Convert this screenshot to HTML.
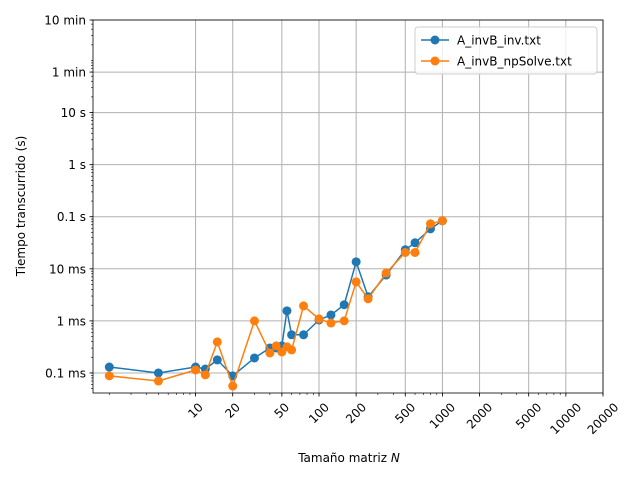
<!DOCTYPE html>
<html><head><meta charset="utf-8"><style>
body{margin:0;background:#fff;}
svg text{font-family:"DejaVu Sans","Liberation Sans",sans-serif;font-size:12px;fill:#000;}
</style></head><body>
<svg id="chart" width="640" height="480" xmlns="http://www.w3.org/2000/svg"></svg>
<script>
const sizes=[2,5,10,12,15,20,30,40,45,50,55,60,75,100,125,160,200,250,350,500,600,800,1000];
const invMs=[0.130,0.1,0.130,0.119,0.178,0.088,0.194,0.302,0.302,0.331,1.56,0.54,0.54,1.04,1.30,2.04,13.6,2.9,7.6,23.2,31.6,58.5,83.6];
const solveMs=[0.088,0.070,0.114,0.092,0.395,0.056,1.0,0.242,0.331,0.253,0.316,0.277,1.94,1.09,0.91,1.0,5.6,2.65,8.3,20.6,20.6,73.2,83.6];
const xTicks=[10,20,50,100,200,500,1000,2000,5000,10000,20000];
const xTickLabels=["10","20","50","100","200","500","1000","2000","5000","10000","20000"];
const yTicks=[1e-4,1e-3,1e-2,0.1,1,10,60,600];
const yTickLabels=["0.1 ms","1 ms","10 ms","0.1 s","1 s","10 s","1 min","10 min"];
const seriesNames=["A_invB_inv.txt","A_invB_npSolve.txt"];

const L=93,R=603,T=20,B=393;
const xMin=0.169,xMax=Math.log10(20000);
const yMin=Math.log10(4.12e-5),yMax=Math.log10(600);
const X=v=>L+(Math.log10(v)-xMin)/(xMax-xMin)*(R-L);
const Y=v=>B-(Math.log10(v)-yMin)/(yMax-yMin)*(B-T);
const svg=document.getElementById('chart');
const NS="http://www.w3.org/2000/svg";
function mk(tag,attrs,parent){const e=document.createElementNS(NS,tag);for(const k in attrs)e.setAttribute(k,attrs[k]);(parent||svg).appendChild(e);return e;}

xTicks.forEach((t,i)=>{
 const g=mk('line',{x1:X(t),x2:X(t),y1:T,y2:B,stroke:'#b0b0b0','stroke-width':1});
 
 
});
yTicks.forEach((t,i)=>{
 const g=mk('line',{x1:L,x2:R,y1:Y(t),y2:Y(t),stroke:'#b0b0b0','stroke-width':1});
 
 
});
for(let d=0;d<=4;d++)for(let m=1;m<10;m++){const v=m*Math.pow(10,d);if(Math.log10(v)<xMin||v>20000)continue;
 const t=mk('line',{x1:X(v),x2:X(v),y1:B,y2:B+2,stroke:'#000','stroke-width':0.6});
 
 }
for(let d=-5;d<=2;d++)for(let m=1;m<10;m++){const v=m*Math.pow(10,d);if(v<4.12e-5||v>600)continue;
 const t=mk('line',{x1:L-2,x2:L,y1:Y(v),y2:Y(v),stroke:'#000','stroke-width':0.6});
 
 }
xTicks.forEach((t,i)=>{
 const tk=mk('line',{x1:X(t),x2:X(t),y1:B,y2:B+3.5,stroke:'#000','stroke-width':0.8});
 
 
 const w=xTickLabels[i].length*7.6;
 const cx=X(t), cy=B+9+(w+9)*0.707/2;
 const lb=mk('text',{x:cx,y:cy+4,'text-anchor':'middle',transform:`rotate(-45 ${cx} ${cy})`});
 lb.textContent=xTickLabels[i];
 
 
});
yTicks.forEach((t,i)=>{
 const tk=mk('line',{x1:L-3.5,x2:L,y1:Y(t),y2:Y(t),stroke:'#000','stroke-width':0.8});
 
 
 const lb=mk('text',{x:L-7,y:Y(t)+4.5,'text-anchor':'end'});
 lb.textContent=yTickLabels[i];
 
 
});
const colors=['#1f77b4','#ff7f0e'];
[invMs,solveMs].forEach((vals,si)=>{
 const pts=sizes.map((n,i)=>X(n)+','+Y(vals[i]/1000)).join(' ');
 const pl=mk('polyline',{points:pts,fill:'none',stroke:colors[si],'stroke-width':1.5});
 
 
 sizes.forEach((n,i)=>{
  const c=mk('circle',{cx:X(n),cy:Y(vals[i]/1000),r:4.5,fill:colors[si]});
  
  
 });
});
const fr=mk('rect',{x:L,y:T,width:R-L,height:B-T,fill:'none',stroke:'#000','stroke-width':0.8});


const lg=mk('g',{});


mk('rect',{x:415,y:27,width:182,height:47,rx:3,fill:'#fff','fill-opacity':0.8,stroke:'#ccc'},lg);
seriesNames.forEach((nm,i)=>{
 const y=40+i*21;
 const e=mk('g',{},lg);
 
 
 mk('line',{x1:421,x2:449,y1:y,y2:y,stroke:colors[i],'stroke-width':1.5},e);
 mk('circle',{cx:435,cy:y,r:4.5,fill:colors[i]},e);
 const t=mk('text',{x:457,y:y+4.5},e);t.textContent=nm;
});
const xt=mk('text',{x:349,y:462,'text-anchor':'middle'});
xt.innerHTML='Tamaño matriz <tspan font-style="italic">N</tspan>';


const yt=mk('text',{x:25,y:206,'text-anchor':'middle',transform:'rotate(-90 25 206)'});
yt.textContent='Tiempo transcurrido (s)';


</script>
</body></html>
